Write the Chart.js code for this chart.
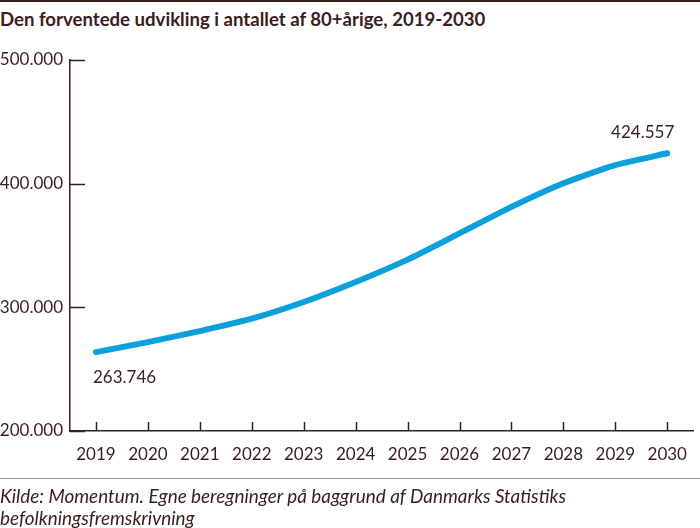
<!DOCTYPE html>
<html>
<head>
<meta charset="utf-8">
<script src="https://cdn.jsdelivr.net/npm/chart.js@4/dist/chart.umd.min.js"></script>
<style>
  body { margin: 0; background: #fff; }
  #wrap { position: relative; width: 700px; height: 528px; overflow: hidden; font-family: Lato, sans-serif; color: #3a1d1d; }
  #topline { position: absolute; left: 0; top: 0; width: 700px; height: 2px; background: #3a1d1d; }
  #title { position: absolute; left: 0; top: 8px; font-weight: bold; font-size: 18.6px; white-space: nowrap; }
  #sep { position: absolute; left: 0; top: 478px; width: 700px; height: 1px; background: #9c9090; }
  #source { position: absolute; left: 0; top: 485px; font-style: italic; font-size: 18.9px; line-height: 22px; white-space: nowrap; }
  canvas { position: absolute; left: 0; top: 0; }
</style>
</head>
<body>
<div id="wrap">
  <div id="topline"></div>
  <div id="title">Den forventede udvikling i antallet af 80+årige, 2019-2030</div>
  <canvas id="chart" width="700" height="528"></canvas>
  <div id="sep"></div>
  <div id="source">Kilde: Momentum. Egne beregninger på baggrund af Danmarks Statistiks<br>befolkningsfremskrivning</div>
</div>
<script>
const years = ["2019", "2020", "2021", "2022", "2023", "2024", "2025", "2026", "2027", "2028", "2029", "2030"];
const persons80 = [263746, 271900, 280800, 290800, 304300, 320500, 338600, 359800, 381200, 400300, 415000, 424557];
const yTicks = [200000, 300000, 400000, 500000];
const labelled = [0, 11];

const ink = "#3a1d1d";

function dk(n) {
    return String(Math.round(n)).replace(/\B(?=(\d{3})+(?!\d))/g, ".");
}

// inward ticks + end labels
const extras = {
    id: "extras",
    afterDatasetsDraw(chart) {
        const c = chart.ctx;
        const xs = chart.scales.x, ys = chart.scales.y;
        c.save();
        c.strokeStyle = ink;
        c.lineWidth = 1.5;
        yTicks.forEach(v => {
            const y = Math.round(ys.getPixelForValue(v)) + 0.5;
            c.beginPath();
            c.moveTo(xs.left, y);
            c.lineTo(xs.left + 15, y);
            c.stroke();
        });
        years.forEach((yr, i) => {
            const x = Math.round(xs.getPixelForValue(i)) + 0.5;
            c.beginPath();
            c.moveTo(x, ys.bottom);
            c.lineTo(x, ys.bottom - 9);
            c.stroke();
        });
        const meta = chart.getDatasetMeta(0);
        c.fillStyle = ink;
        c.font = "17px Lato, sans-serif";
        c.textBaseline = "middle";
        labelled.forEach(i => {
            const p = meta.data[i];
            if (i === 0) {
                c.textAlign = "left";
                c.fillText(dk(persons80[i]), p.x - 3, p.y + 25);
            } else {
                c.textAlign = "right";
                c.fillText(dk(persons80[i]), p.x + 7, p.y - 21);
            }
        });
        c.restore();
    }
};

new Chart(document.getElementById("chart"), {
    type: "line",
    data: {
        labels: years,
        datasets: [{
            data: persons80,
            borderColor: "#0aa0dc",
            borderWidth: 6,
            borderCapStyle: "round",
            pointRadius: 0,
            tension: 0.2,
            fill: false,
        }],
    },
    options: {
        responsive: false,
        animation: false,
        layout: { padding: { top: 60, right: 1, bottom: 57, left: 0 } },
        plugins: { legend: { display: false }, tooltip: { enabled: false } },
        scales: {
            x: {
                offset: true,
                grid: { display: false, drawTicks: false },
                border: { display: true, color: ink, width: 1.5 },
                ticks: { color: ink, font: { family: "Lato", size: 17 }, padding: 13, maxRotation: 0, autoSkip: false },
                afterFit(s) { s.height = 40; },
            },
            y: {
                min: 200000,
                max: 500000,
                afterBuildTicks(s) { s.ticks = yTicks.map(v => ({ value: v })); },
                grid: { display: false, drawTicks: false },
                border: { display: true, color: ink, width: 1.5 },
                ticks: { color: ink, font: { family: "Lato", size: 17 }, padding: 7, callback: v => dk(v) },
                afterFit(s) { s.width = 70; },
            },
        },
    },
    plugins: [extras],
});
</script>
</body>
</html>
